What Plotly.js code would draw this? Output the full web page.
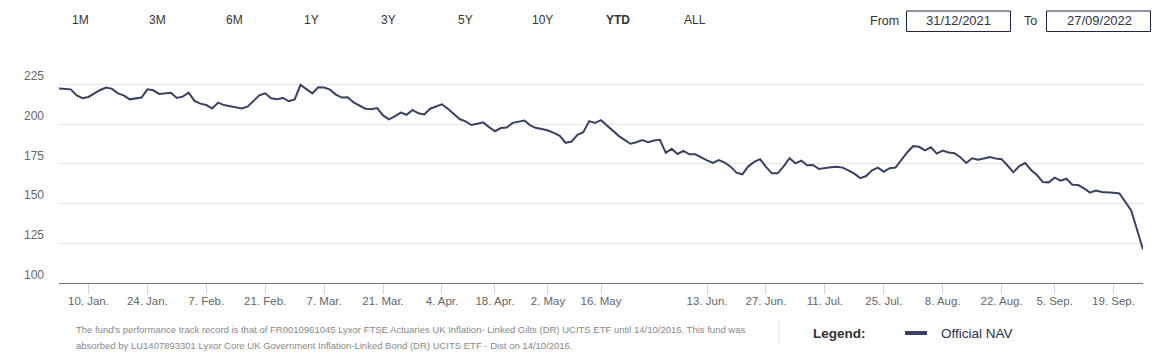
<!DOCTYPE html>
<html>
<head>
<meta charset="utf-8">
<script src="https://cdn.plot.ly/plotly-3.0.1.min.js"></script>
<style>
  html, body { margin: 0; padding: 0; background: #ffffff; }
  #chart { width: 1159px; height: 360px; }
</style>
</head>
<body>
<div id="chart"></div>
<script>
// ---------------- DATA ----------------
const startDate = '2021-12-31';
const endDate = '2022-09-27';
// UK market holidays in the period (no NAV published)
const holidays = ['2022-01-03', '2022-04-15', '2022-04-18', '2022-05-02',
                  '2022-06-02', '2022-06-03', '2022-08-29', '2022-09-19'];

// Official NAV, one value per trading day
const nav = [
  222.5, 222.3, 222.0, 218.2, 216.4, 217.2, 219.5, 221.6, 223.1, 222.3,
  219.5, 218.2, 215.7, 216.1, 216.8, 222.0, 221.4, 219.1, 219.5, 219.9,
  216.6, 217.4, 219.9, 214.7, 213.0, 212.1, 210.0, 213.6, 212.1, 211.5,
  210.7, 210.0, 211.1, 214.7, 218.2, 219.5, 216.4, 215.7, 216.6, 214.5,
  215.7, 224.8, 222.3, 219.5, 223.3, 223.1, 221.8, 218.7, 216.8, 217.0,
  213.8, 211.9, 209.8, 209.4, 210.2, 205.6, 203.1, 205.0, 207.3, 206.0,
  209.0, 206.9, 206.2, 209.8, 211.1, 212.6, 209.8, 206.7, 203.3, 201.8,
  199.5, 200.3, 201.2, 198.2, 195.6, 197.6, 198.0, 200.9, 201.8, 202.4,
  199.3, 197.6, 197.0, 196.1, 194.6, 192.7, 188.3, 189.1, 193.4, 195.0,
  202.0, 200.9, 202.6, 199.3, 195.5, 192.7, 190.2, 187.7, 188.7, 190.0,
  188.7, 189.8, 190.2, 182.0, 184.5, 181.3, 183.2, 181.1, 181.1, 179.0,
  177.3, 175.6, 177.4, 175.8, 173.3, 169.5, 168.5, 173.5, 176.3, 178.0,
  173.1, 169.1, 169.1, 173.5, 178.6, 175.4, 177.1, 174.2, 174.4, 171.8,
  172.5, 172.9, 173.3, 172.7, 171.0, 168.9, 166.1, 167.4, 171.0, 172.7,
  170.1, 172.3, 172.7, 177.7, 182.4, 186.2, 185.8, 183.6, 185.5, 181.5,
  183.4, 182.2, 181.8, 179.2, 175.6, 178.6, 177.7, 178.4, 179.4, 178.4,
  178.0, 174.0, 169.7, 173.7, 175.6, 171.2, 168.0, 163.6, 163.4, 166.4,
  164.5, 165.7, 161.9, 161.7, 159.6, 156.9, 158.3, 157.3, 157.3, 156.9,
  156.4, 151.2, 145.7, 133.4, 121.2
];

// x-axis tick dates and labels
const tickDates = ['2022-01-10', '2022-01-24', '2022-02-07', '2022-02-21', '2022-03-07',
                   '2022-03-21', '2022-04-04', '2022-04-19', '2022-05-03', '2022-05-16',
                   '2022-06-13', '2022-06-27', '2022-07-11', '2022-07-25', '2022-08-08',
                   '2022-08-22', '2022-09-05', '2022-09-20'];
const tickLabels = ['10. Jan.', '24. Jan.', '7. Feb.', '21. Feb.', '7. Mar.',
                    '21. Mar.', '4. Apr.', '18. Apr.', '2. May', '16. May',
                    '13. Jun.', '27. Jun.', '11. Jul.', '25. Jul.', '8. Aug.',
                    '22. Aug.', '5. Sep.', '19. Sep.'];

const rangeButtons = ['1M', '3M', '6M', '1Y', '3Y', '5Y', '10Y', 'YTD', 'ALL'];
const activeButton = 'YTD';
const fromText = '31/12/2021';
const toText = '27/09/2022';
const seriesName = 'Official NAV';
const footnote1 = "The fund's performance track record is that of FR0010961045 Lyxor FTSE Actuaries UK Inflation- Linked Gilts (DR) UCITS ETF until 14/10/2016. This fund was";
const footnote2 = 'absorbed by LU1407893301 Lyxor Core UK Government Inflation-Linked Bond (DR) UCITS ETF - Dist on 14/10/2016.';

// ---------------- BUILD TRADING DATES ----------------
function tradingDays(start, end, hol) {
  const out = [];
  const d = new Date(start + 'T00:00:00Z');
  const e = new Date(end + 'T00:00:00Z');
  while (d <= e) {
    const s = d.toISOString().slice(0, 10);
    const wd = d.getUTCDay();
    if (wd !== 0 && wd !== 6 && hol.indexOf(s) < 0) out.push(s);
    d.setUTCDate(d.getUTCDate() + 1);
  }
  return out;
}
const dates = tradingDays(startDate, endDate, holidays);

// ---------------- LAYOUT HELPERS ----------------
const W = 1159, H = 360;
const M = { l: 59, r: 16, t: 83, b: 77 };
const PW = W - M.l - M.r, PH = H - M.t - M.b;
const px = x => (x - M.l) / PW;
const py = y => (H - M.b - y) / PH;

const LINE_COLOR = '#394266';
const FONT = 'Liberation Sans, Arial, sans-serif';

const annotations = [];
const shapes = [];

// range selector buttons
const btnX = [80, 157, 234, 311, 388, 465, 542, 618, 695];
rangeButtons.forEach((b, i) => {
  annotations.push({
    xref: 'paper', yref: 'paper', x: px(btnX[i]), y: py(20),
    xanchor: 'center', yanchor: 'middle', showarrow: false,
    text: b === activeButton ? '<b>' + b + '</b>' : b,
    font: { family: FONT, size: 12, color: '#333333' }
  });
});

// From / To inputs
annotations.push({ xref: 'paper', yref: 'paper', x: px(884), y: py(21), xanchor: 'center', yanchor: 'middle',
  showarrow: false, text: 'From', font: { family: FONT, size: 12.5, color: '#333333' } });
annotations.push({ xref: 'paper', yref: 'paper', x: px(1030), y: py(21), xanchor: 'center', yanchor: 'middle',
  showarrow: false, text: 'To', font: { family: FONT, size: 12.5, color: '#333333' } });
annotations.push({ xref: 'paper', yref: 'paper', x: px(958.5), y: py(21), xanchor: 'center', yanchor: 'middle',
  showarrow: false, text: fromText, font: { family: FONT, size: 13, color: '#333344' } });
annotations.push({ xref: 'paper', yref: 'paper', x: px(1099), y: py(21), xanchor: 'center', yanchor: 'middle',
  showarrow: false, text: toText, font: { family: FONT, size: 13, color: '#333344' } });
shapes.push({ type: 'rect', xref: 'paper', yref: 'paper', x0: px(906.5), x1: px(1010.5), y0: py(11), y1: py(31.5),
  line: { color: '#1e2542', width: 1 }, fillcolor: 'rgba(0,0,0,0)' });
shapes.push({ type: 'rect', xref: 'paper', yref: 'paper', x0: px(1046.5), x1: px(1150.5), y0: py(11), y1: py(31.5),
  line: { color: '#1e2542', width: 1 }, fillcolor: 'rgba(0,0,0,0)' });

// footnote
annotations.push({ xref: 'paper', yref: 'paper', x: px(74), y: py(329), xanchor: 'left', yanchor: 'middle',
  showarrow: false, text: footnote1, font: { family: FONT, size: 9.5, color: '#888888' } });
annotations.push({ xref: 'paper', yref: 'paper', x: px(74), y: py(345), xanchor: 'left', yanchor: 'middle',
  showarrow: false, text: footnote2, font: { family: FONT, size: 9.5, color: '#888888' } });
shapes.push({ type: 'line', xref: 'paper', yref: 'paper', x0: px(779), x1: px(779), y0: py(320), y1: py(344),
  line: { color: '#e3e3e3', width: 1 } });

// legend
annotations.push({ xref: 'paper', yref: 'paper', x: px(811), y: py(333), xanchor: 'left', yanchor: 'middle',
  showarrow: false, text: '<b>Legend:</b>', font: { family: FONT, size: 13.5, color: '#333333' } });
shapes.push({ type: 'line', xref: 'paper', yref: 'paper', x0: px(905), x1: px(927), y0: py(333), y1: py(333),
  line: { color: LINE_COLOR, width: 4 } });
annotations.push({ xref: 'paper', yref: 'paper', x: px(939), y: py(333), xanchor: 'left', yanchor: 'middle',
  showarrow: false, text: seriesName, font: { family: FONT, size: 13.5, color: '#2a3150' } });

// ---------------- PLOT ----------------
const trace = {
  type: 'scatter', mode: 'lines', name: seriesName,
  x: dates, y: nav,
  line: { color: LINE_COLOR, width: 2 },
  hoverinfo: 'skip'
};

const layout = {
  width: W, height: H,
  margin: M,
  paper_bgcolor: '#ffffff', plot_bgcolor: '#ffffff',
  showlegend: false,
  font: { family: FONT },
  xaxis: {
    type: 'date',
    range: [startDate, endDate],
    autorange: false,
    rangebreaks: [{ bounds: ['sat', 'mon'] }, { values: holidays }],
    tickmode: 'array', tickvals: tickDates, ticktext: tickLabels,
    ticks: 'outside', ticklen: 10, tickcolor: '#ccd6eb', tickwidth: 1,
    ticklabelstandoff: -3,
    tickfont: { family: FONT, size: 11.5, color: '#666666' },
    showgrid: false, zeroline: false,
    showline: true, linecolor: '#707070', linewidth: 1
  },
  yaxis: {
    range: [100, 226], autorange: false,
    tick0: 100, dtick: 25, tickmode: 'linear',
    ticks: '', ticklabelstandoff: 14,
    ticklabelposition: 'outside top',
    tickfont: { family: FONT, size: 12, color: '#666666' },
    showgrid: true, gridcolor: '#e6e6e6', gridwidth: 1,
    zeroline: false, showline: false
  },
  annotations: annotations,
  shapes: shapes
};

Plotly.newPlot('chart', [trace], layout, { displayModeBar: false, staticPlot: true });
</script>
</body>
</html>
